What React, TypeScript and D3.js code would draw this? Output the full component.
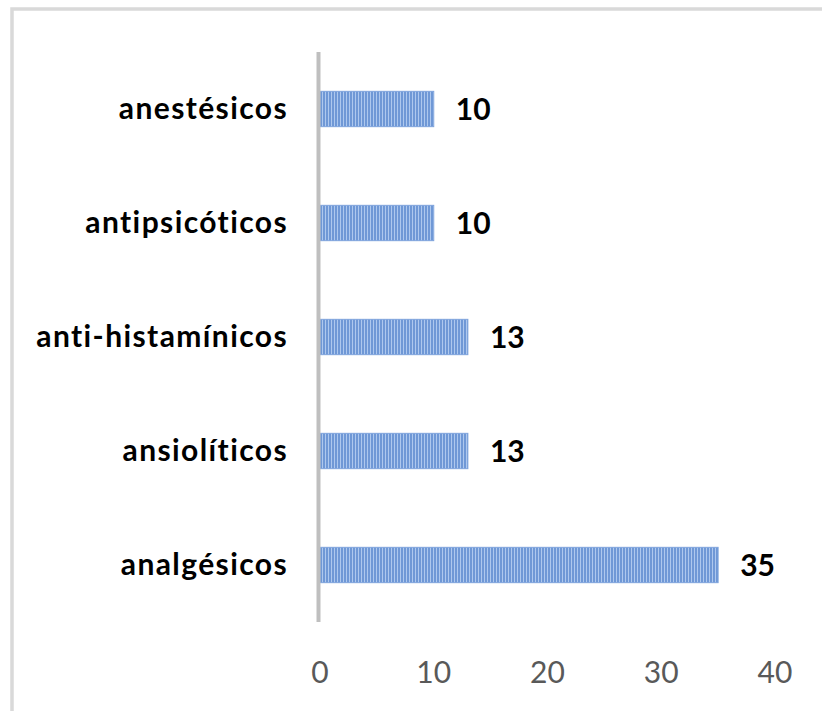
import React from "react";
import * as d3 from "d3";

const categories = ["anestésicos", "antipsicóticos", "anti-histamínicos", "ansiolíticos", "analgésicos"];
const values = [10, 10, 13, 13, 35];
const ticks = [0, 10, 20, 30, 40];

const W = 822;
const H = 711;

export default function App() {
  const x = d3.scaleLinear().domain([0, 40]).range([320, 775]);
  const y = d3.scaleBand<string>().domain(categories).range([52, 622]).paddingInner(0.69).paddingOuter(0.345);
  const font = "Lato, 'Open Sans', sans-serif";
  const noLig = { fontVariantLigatures: "none" as const, fontFeatureSettings: "'liga' 0, 'clig' 0" };
  return (
    <svg width={W} height={H} style={{ position: "absolute", left: 0, top: 0, background: "#fff" }}>
      <defs>
        <pattern id="stripes" width={3} height={4} patternUnits="userSpaceOnUse" x={x(0)}>
          <rect width={3} height={4} fill="#6f98d6" />
          <rect x={2} width={1} height={4} fill="#aec8ee" />
        </pattern>
      </defs>
      <rect x={12} y={9} width={W + 20} height={H + 20} fill="none" stroke="#d9d9d9" strokeWidth={3.5} />
      {categories.map((c, i) => (
        <g key={c}>
          <rect
            x={x(0)}
            y={y(c)!}
            width={x(values[i]) - x(0)}
            height={y.bandwidth()}
            fill="url(#stripes)"
            stroke="#7fa4dc"
            strokeWidth={1}
          />
          <text
            x={288}
            y={y(c)! + y.bandwidth() / 2 + 10}
            textAnchor="end"
            fontFamily={font}
            fontWeight="bold"
            fontSize={30}
            letterSpacing={1.4}
            fill="#000"
            style={noLig}
          >
            {c}
          </text>
          <text
            x={x(values[i]) + 22}
            y={y(c)! + y.bandwidth() / 2 + 10.5}
            fontFamily={font}
            fontWeight="bold"
            fontSize={30}
            fill="#000"
            style={noLig}
          >
            {values[i]}
          </text>
        </g>
      ))}
      <line x1={318.5} x2={318.5} y1={52} y2={622} stroke="#bfbfbf" strokeWidth={4} />
      {ticks.map((t) => (
        <text
          key={t}
          x={x(t)}
          y={683}
          textAnchor="middle"
          fontFamily={font}
          fontSize={30}
          fill="#595959"
        >
          {t}
        </text>
      ))}
    </svg>
  );
}
